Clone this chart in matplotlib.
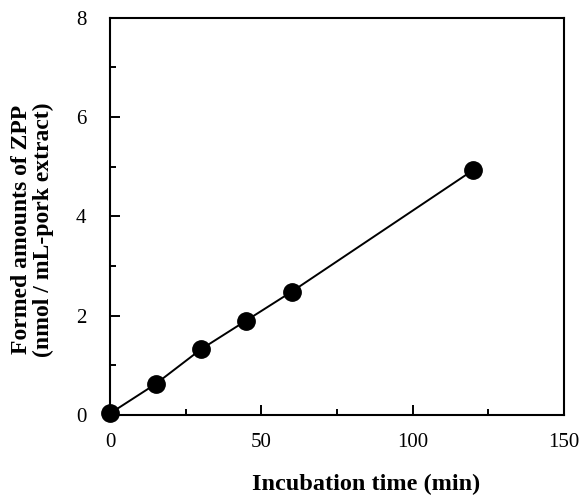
import numpy as np
import matplotlib.pyplot as plt
from matplotlib.ticker import MultipleLocator

# incubation time (min) and formed ZPP (nmol / mL-pork extract)
time_min = [0, 15, 30, 45, 60, 120]
zpp = [0.03, 0.62, 1.32, 1.90, 2.48, 4.93]

plt.rcParams['font.family'] = ['Liberation Serif', 'DejaVu Serif']

fig = plt.figure(figsize=(5.8, 4.95), dpi=100)
ax = fig.add_axes([0.19, 0.162, 0.782, 0.802])

ax.plot(time_min, zpp, color='black', lw=1.4, zorder=2)
ax.plot(time_min, zpp, 'o', color='black', ms=12.5, clip_on=False, zorder=3)

ax.set_xlim(0, 150)
ax.set_ylim(0, 8)
ax.xaxis.set_major_locator(MultipleLocator(50))
ax.xaxis.set_minor_locator(MultipleLocator(25))
ax.yaxis.set_major_locator(MultipleLocator(2))
ax.yaxis.set_minor_locator(MultipleLocator(1))

ax.tick_params(which='both', direction='in', top=False, right=False, labelsize=15, width=1.4)
ax.tick_params(which='major', length=7)
ax.tick_params(which='minor', length=4.5)
ax.tick_params(axis='x', pad=13)
ax.tick_params(axis='y', pad=17)

for s in ax.spines.values():
    s.set_linewidth(1.5)

ax.set_xlabel('Incubation time (min)', fontsize=17.5, fontweight='bold')
ax.set_ylabel('Formed amounts of ZPP\n(nmol / mL-pork extract)', fontsize=17,
              fontweight='bold', linespacing=1.0)
ax.xaxis.set_label_coords(0.564, -0.148)
ax.yaxis.set_label_coords(-0.125, 0.466)

fig.savefig('out.png', dpi=100)
